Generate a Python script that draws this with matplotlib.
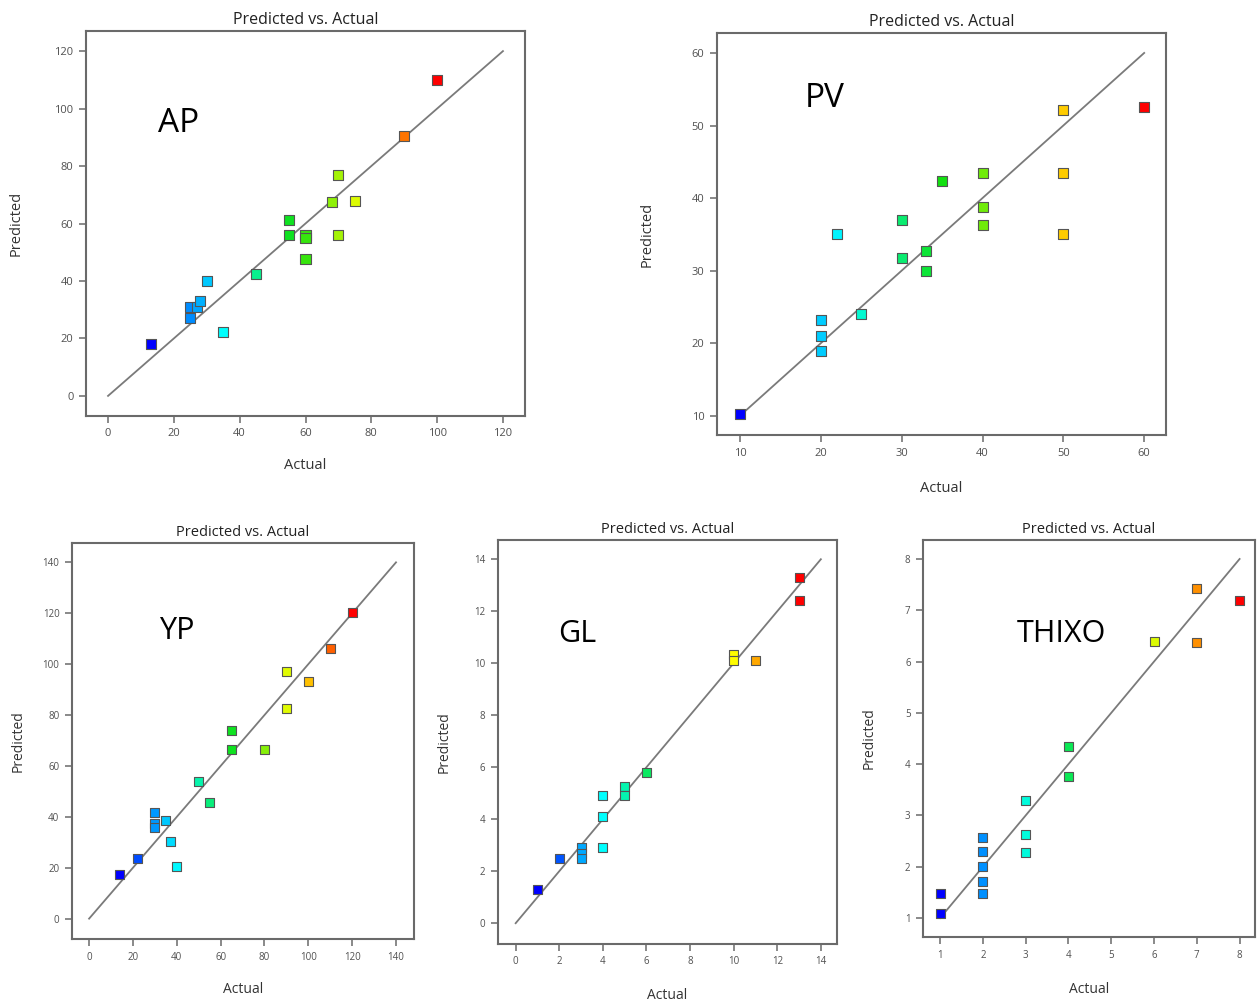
import matplotlib
matplotlib.use("Agg")
import matplotlib.pyplot as plt
import numpy as np
from matplotlib.colors import LinearSegmentedColormap

# ---- data (actual, predicted)
ap_actual = [13, 25, 27, 28, 25, 30, 35, 45, 55, 55, 60, 60, 60, 70, 68, 75, 70, 90, 100]
ap_pred = [18, 31, 31, 33, 27.2, 40, 22.3, 42.3, 61.3, 56, 56, 54.8, 47.8, 76.8, 67.6, 68, 56, 90.5, 110]

pv_actual = [10, 20, 20, 20, 22, 25, 30, 30, 33, 33, 35, 40, 40, 40, 50, 50, 50, 60]
pv_pred = [10.3, 18.9, 21, 23.2, 35, 24, 37, 31.8, 32.7, 30, 42.4, 43.4, 38.7, 36.3, 52.2, 43.4, 35, 52.5]

yp_actual = [14, 22, 30, 30, 30, 35, 37, 40, 50, 55, 65, 65, 80, 90, 90, 100, 110, 120]
yp_pred = [17.5, 23.8, 41.6, 37.3, 35.8, 38.4, 30.5, 20.5, 53.8, 45.8, 73.8, 66.3, 66.3, 97, 82.5, 93, 106, 120.2]

gl_actual = [1, 2, 3, 3, 3, 4, 4, 4, 5, 5, 6, 10, 10, 11, 13, 13]
gl_pred = [1.3, 2.5, 2.9, 2.7, 2.5, 4.9, 4.1, 2.9, 5.25, 4.9, 5.8, 10.35, 10.1, 10.1, 13.3, 12.4]

thixo_actual = [1, 1, 2, 2, 2, 2, 2, 3, 3, 3, 4, 4, 6, 7, 7, 8]
thixo_pred = [1.08, 1.48, 2.57, 2.3, 2.0, 1.72, 1.48, 3.3, 2.62, 2.28, 4.35, 3.75, 6.4, 7.42, 6.38, 7.2]

panel_names = ["AP", "PV", "YP", "GL", "THIXO"]

# ---- look
W, H = 1257, 1002
COLOR_FRAME = "#6a6a6a"
COLOR_TICKTEXT = "#505050"
COLOR_DIAG = "#7a7a7a"

rainbow = LinearSegmentedColormap.from_list(
    "de_rainbow",
    [(0.0, "#0000ff"), (0.25, "#00ffff"), (0.5, "#10e010"),
     (0.75, "#ffff00"), (1.0, "#ff0000")])

TOP_FONT = ["Open Sans", "DejaVu Sans"]
BOT_FONT = ["Open Sans", "DejaVu Sans"]


def px_axes(fig, left, top, right, bottom):
    return fig.add_axes([left / W, 1 - bottom / H, (right - left) / W, (bottom - top) / H])


def panel(ax, actual, pred, name, xlim, ylim, ticks, diag, label_pos,
          font, title_size, tick_size, label_size, name_size, msize,
          xlabel_y, ylabel_x):
    actual = np.asarray(actual, dtype=float)
    pred = np.asarray(pred, dtype=float)

    ax.plot(diag, diag, color=COLOR_DIAG, lw=1.3, zorder=1)
    norm = (actual - actual.min()) / (actual.max() - actual.min())
    ax.scatter(actual, pred, c=rainbow(norm), marker="s", s=msize,
               edgecolors="#555555", linewidths=0.8, zorder=3)

    ax.set_xlim(*xlim)
    ax.set_ylim(*ylim)
    ax.set_xticks(ticks)
    ax.set_yticks(ticks)
    ax.tick_params(direction="out", length=5, width=1.1, color=COLOR_FRAME,
                   labelsize=tick_size, labelcolor=COLOR_TICKTEXT, pad=4)
    for lab in ax.get_xticklabels() + ax.get_yticklabels():
        lab.set_family(font)
    for sp in ax.spines.values():
        sp.set_color(COLOR_FRAME)
        sp.set_linewidth(1.5)

    ax.set_title("Predicted vs. Actual", family=font, fontsize=title_size,
                 color="#222222", pad=5)
    ax.set_xlabel("Actual", family=font, fontsize=label_size, color="#333333")
    ax.set_ylabel("Predicted", family=font, fontsize=label_size, color="#333333")
    ax.xaxis.set_label_coords(0.5, xlabel_y)
    ax.xaxis.label.set_va("top")
    ax.yaxis.set_label_coords(ylabel_x, 0.5)

    ax.text(label_pos[0], label_pos[1], name, transform=ax.transAxes,
            family=font, fontsize=name_size, color="black", va="baseline")


fig = plt.figure(figsize=(W / 100, H / 100), dpi=100)

ax_ap = px_axes(fig, 86, 31, 525, 416)
panel(ax_ap, ap_actual, ap_pred, panel_names[0], (-6.7, 126.7), (-7.0, 127.0),
      np.arange(0, 121, 20), [0, 120], (0.164, 0.738), TOP_FONT,
      11.5, 8, 10.5, 24, 52, -0.109, -0.141)

ax_pv = px_axes(fig, 717, 33, 1166, 435)
panel(ax_pv, pv_actual, pv_pred, panel_names[1], (7.15, 62.7), (7.34, 62.75),
      np.arange(10, 61, 10), [10, 60], (0.196, 0.816), TOP_FONT,
      11.5, 8, 10.5, 24, 52, -0.114, -0.138)

ax_yp = px_axes(fig, 72, 543, 414, 939)
panel(ax_yp, yp_actual, yp_pred, panel_names[2], (-7.8, 148.2), (-8.0, 147.6),
      np.arange(0, 141, 20), [0, 140], (0.254, 0.757), BOT_FONT,
      10.5, 7, 10, 22, 42, -0.109, -0.137)

ax_gl = px_axes(fig, 498, 540, 837, 944)
panel(ax_gl, gl_actual, gl_pred, panel_names[3], (-0.81, 14.74), (-0.8, 14.74),
      np.arange(0, 15, 2), [0, 14], (0.177, 0.748), BOT_FONT,
      10.5, 7, 10, 22, 42, -0.109, -0.136)

ax_th = px_axes(fig, 923, 540, 1255, 937)
panel(ax_th, thixo_actual, thixo_pred, panel_names[4], (0.60, 8.36), (0.63, 8.37),
      np.arange(1, 9, 1), [1, 8], (0.281, 0.742), BOT_FONT,
      10.5, 7, 10, 22, 42, -0.114, -0.139)

fig.savefig("out.png", dpi=100)
